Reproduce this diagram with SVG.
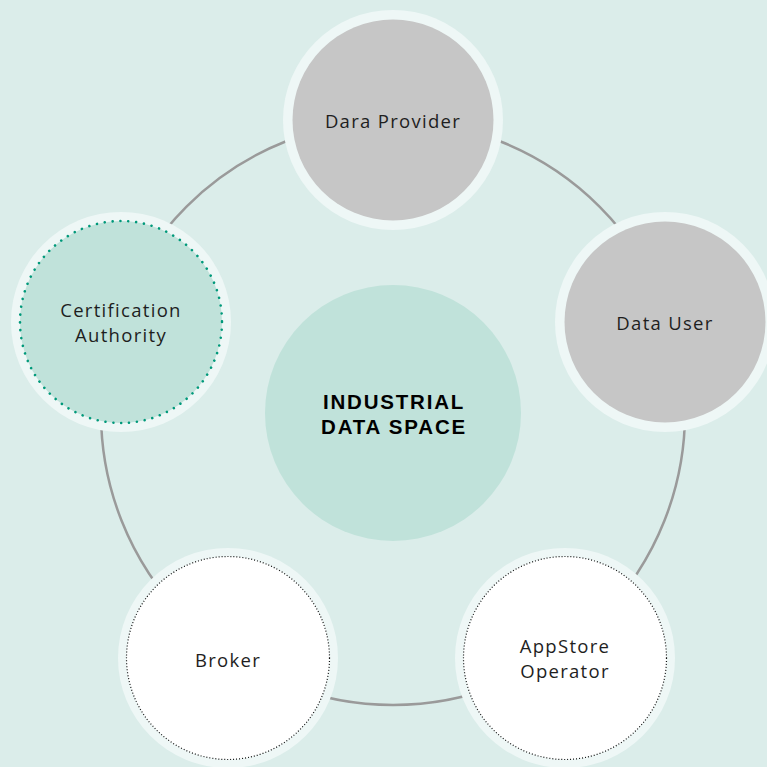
<svg xmlns="http://www.w3.org/2000/svg" width="767" height="767" viewBox="0 0 767 767">
<style>
.halo{fill:#eef7f6}
.gray{fill:#c6c6c6}
.lbl{font-family:"Open Sans","Noto Sans","Liberation Sans",sans-serif;font-size:18.5px;letter-spacing:1.3px;fill:#1e1e1e;text-anchor:middle}
.title{font-family:"Liberation Sans",Arial,sans-serif;font-size:20.5px;font-weight:bold;letter-spacing:1.8px;fill:#000;text-anchor:middle}
.dotk{fill:#fff;stroke:#111;stroke-width:1.2;stroke-dasharray:1 2}
</style>
<rect width="767" height="767" fill="#dbedea"/>
<g id="connectors">
<circle cx="393" cy="413" r="292" fill="none" stroke="#9a9a9a" stroke-width="2.5"/>
</g>
<g id="center">
<circle cx="393" cy="413" r="128" fill="#c0e2da"/>
<text class="title" x="394" y="409">INDUSTRIAL</text>
<text class="title" x="394" y="434">DATA SPACE</text>
</g>
<g id="provider">
<circle class="halo" cx="393" cy="120" r="110"/>
<circle class="gray" cx="393" cy="120" r="100.5"/>
<text class="lbl" x="393" y="128">Dara Provider</text>
</g>
<g id="user">
<circle class="halo" cx="665" cy="322" r="110"/>
<circle class="gray" cx="665" cy="322" r="100.5"/>
<text class="lbl" x="665" y="330">Data User</text>
</g>
<g id="certification">
<circle class="halo" cx="121" cy="322" r="110"/>
<circle cx="121" cy="322" r="101" fill="#c0e2da" stroke="#00997a" stroke-width="2.6" stroke-dasharray="0.01 7.9" stroke-linecap="round"/>
<text class="lbl" x="121" y="317">Certification</text>
<text class="lbl" x="121" y="342">Authority</text>
</g>
<g id="broker">
<circle class="halo" cx="228" cy="658" r="110"/>
<circle class="dotk" cx="228" cy="658" r="101.5"/>
<text class="lbl" x="228" y="667">Broker</text>
</g>
<g id="appstore">
<circle class="halo" cx="565" cy="658" r="110"/>
<circle class="dotk" cx="565" cy="658" r="101.5"/>
<text class="lbl" x="565" y="653">AppStore</text>
<text class="lbl" x="565" y="678">Operator</text>
</g>
</svg>
